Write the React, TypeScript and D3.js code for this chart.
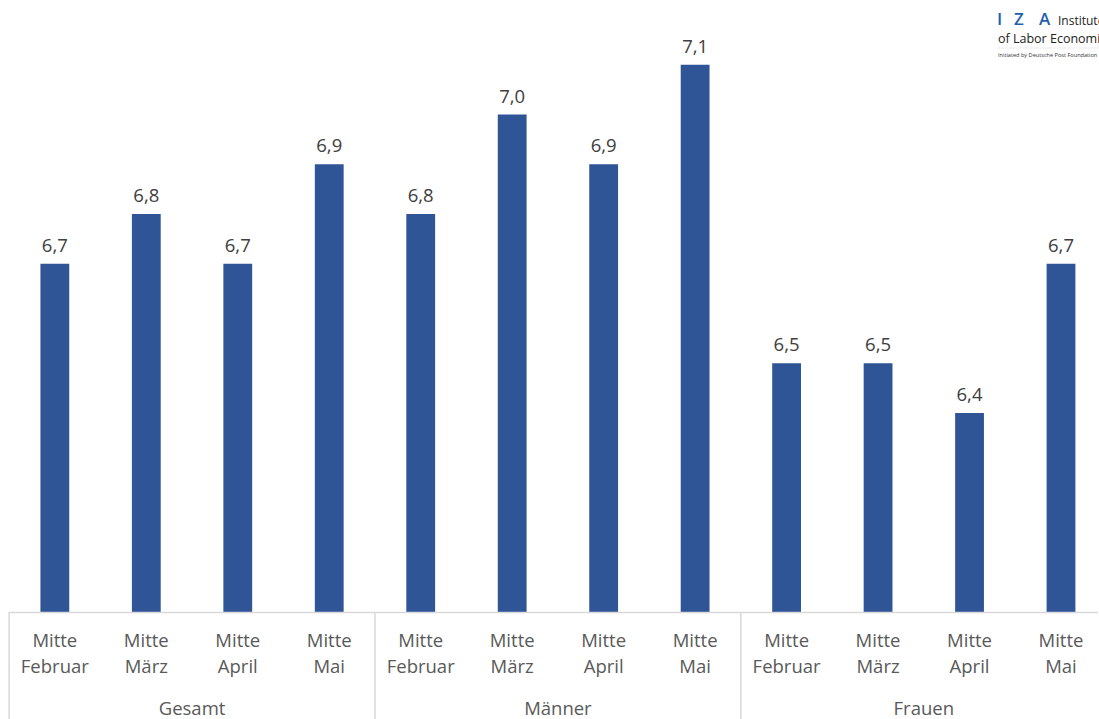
import React from "react";
import * as d3 from "d3";

const groups = ["Gesamt", "Männer", "Frauen"];
const months = ["Februar", "März", "April", "Mai"];
const gesamtValues = [6.7, 6.8, 6.7, 6.9];
const maennerValues = [6.8, 7.0, 6.9, 7.1];
const frauenValues = [6.5, 6.5, 6.4, 6.7];
const seriesByGroup = [gesamtValues, maennerValues, frauenValues];
const logoLetters = ["I", "Z", "A"];

const W = 1099;
const H = 719;
const FONT = "'Open Sans', 'Noto Sans', sans-serif";

export default function App() {
  const data = groups.flatMap((g, gi) =>
    months.map((m, mi) => ({ key: `${g}-${m}`, group: g, month: m, value: seriesByGroup[gi][mi] }))
  );
  const x = d3
    .scaleBand<string>()
    .domain(data.map((d) => d.key))
    .range([9.1, 9.1 + 12 * 91.47])
    .paddingInner(0.685)
    .paddingOuter(0.3425);
  const y = d3.scaleLinear().domain([6.0, 7.2]).range([612, 15]);
  const groupW = 4 * x.step();
  const x0 = 9.1;
  const fmt = (v: number) => d3.format(".1f")(v).replace(".", ",");

  return (
    <svg width={W} height={H} style={{ position: "absolute", left: 0, top: 0, background: "#fff" }}>
      {data.map((d) => (
        <rect
          key={d.key}
          x={x(d.key)}
          y={y(d.value)}
          width={x.bandwidth()}
          height={y(6.0) - y(d.value)}
          fill="#2F5597"
        />
      ))}
      {data.map((d) => (
        <text
          key={"l" + d.key}
          x={(x(d.key) as number) + x.bandwidth() / 2}
          y={y(d.value) - 12}
          textAnchor="middle"
          fontFamily={FONT}
          fontSize={18.5}
          fill="#404040"
        >
          {fmt(d.value)}
        </text>
      ))}
      <line x1={x0} x2={1098} y1={612.5} y2={612.5} stroke="#D9D9D9" strokeWidth={1.5} />
      {[0, 1, 2].map((i) => (
        <line
          key={"s" + i}
          x1={x0 + i * groupW}
          x2={x0 + i * groupW}
          y1={612}
          y2={719}
          stroke="#D9D9D9"
          strokeWidth={1.5}
        />
      ))}
      {data.map((d) => {
        const cx = (x(d.key) as number) + x.bandwidth() / 2;
        return (
          <g key={"c" + d.key} fontFamily={FONT} fontSize={18.5} fill="#595959" textAnchor="middle">
            <text x={cx} y={647}>Mitte</text>
            <text x={cx} y={673}>{d.month}</text>
          </g>
        );
      })}
      {groups.map((g, i) => (
        <text
          key={"g" + g}
          x={x0 + i * groupW + groupW / 2}
          y={715}
          textAnchor="middle"
          fontFamily={FONT}
          fontSize={18.5}
          fill="#595959"
        >
          {g}
        </text>
      ))}
      <g fontFamily={FONT}>
        {logoLetters.map((l, i) => (
          <text key={l} x={[997, 1014, 1039][i]} y={25} fontSize={17} fontWeight={600} fill="#1F5FB0">
            {l}
          </text>
        ))}
        <text x={1058} y={25} fontSize={12} fill="#222">Institute</text>
        <text x={998} y={43} fontSize={12.5} fill="#222">of Labor Economics</text>
        <line x1={998} x2={1099} y1={48} y2={48} stroke="#ddd" strokeWidth={0.6} />
        <text x={998} y={57} fontSize={5.6} fill="#333">Initiated by Deutsche Post Foundation</text>
      </g>
    </svg>
  );
}
